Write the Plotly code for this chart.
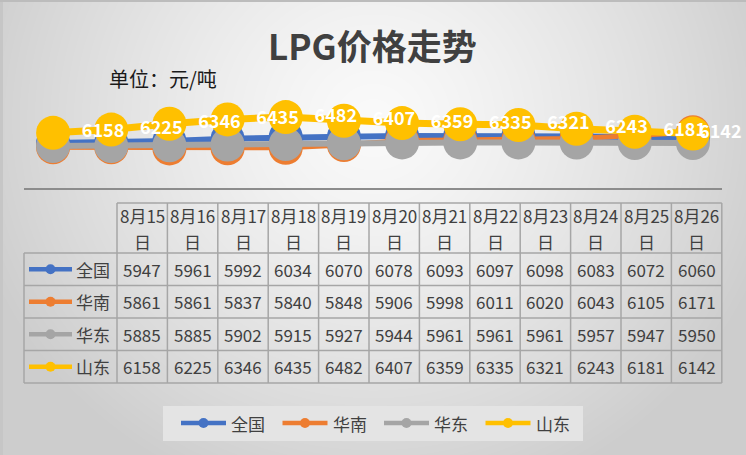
import numpy as np, zlib, struct, base64
import plotly.graph_objects as go

# ---------------- data ----------------
dates = ["8月15日", "8月16日", "8月17日", "8月18日", "8月19日", "8月20日",
         "8月21日", "8月22日", "8月23日", "8月24日", "8月25日", "8月26日"]
series_names = ["全国", "华南", "华东", "山东"]
quanguo = [5947, 5961, 5992, 6034, 6070, 6078, 6093, 6097, 6098, 6083, 6072, 6060]
huanan = [5861, 5861, 5837, 5840, 5848, 5906, 5998, 6011, 6020, 6043, 6105, 6171]
huadong = [5885, 5885, 5902, 5915, 5927, 5944, 5961, 5961, 5961, 5957, 5947, 5950]
shandong = [6158, 6225, 6346, 6435, 6482, 6407, 6359, 6335, 6321, 6243, 6181, 6142]
y_ticks = [5000, 6000, 7000]

series_values = [quanguo, huanan, huadong, shandong]
colors = ["#4472C4", "#ED7D31", "#A5A5A5", "#FFC000"]
line_widths = [6, 5, 6, 7]

W, H = 746, 455
FONT = "Noto Sans CJK SC"
TXT = "#404040"

# ---------------- background gradient (generated PNG) ----------------
yy, xx = np.mgrid[0:H, 0:W]
d = np.sqrt(((xx - 373) / 420.0) ** 2 + ((yy - 120) / 400.0) ** 2)
d = np.clip(d, 0, 1)
v = 250 - 45 * d ** 1.3
v[0:2, :] = 188
v[:, 0:3] = np.minimum(v[:, 0:3], 198)
img = np.clip(v, 0, 255).astype(np.uint8)
raw = b"".join(b"\x00" + img[r].tobytes() for r in range(H))


def chunk(t, data):
    return struct.pack(">I", len(data)) + t + data + struct.pack(">I", zlib.crc32(t + data) & 0xffffffff)


png = (b"\x89PNG\r\n\x1a\n" + chunk(b"IHDR", struct.pack(">IIBBBBB", W, H, 8, 0, 0, 0, 0))
       + chunk(b"IDAT", zlib.compress(raw, 9)) + chunk(b"IEND", b""))
bg_uri = "data:image/png;base64," + base64.b64encode(png).decode()


def px(x):
    return x / W


def py(y):
    return 1 - y / H


# ---------------- chart ----------------
fig = go.Figure()
n = len(dates)
xs = list(range(1, n + 1))
for name, vals, c, lw in zip(series_names, series_values, colors, line_widths):
    fig.add_trace(go.Scatter(
        x=xs, y=vals, name=name, mode="lines+markers",
        line=dict(color=c, width=lw),
        marker=dict(color=c, size=34, line=dict(width=0)),
        showlegend=False, hoverinfo="skip"))

# data labels (Excel placed them shifted by one category)
label_x = [k + 1.86 for k in range(n - 1)] + [n + 0.47]
fig.add_trace(go.Scatter(
    x=label_x, y=shandong, mode="text", text=[str(v) for v in shandong],
    textposition="middle center",
    textfont=dict(family=FONT, size=18, color="white", weight="bold"),
    cliponaxis=False, showlegend=False, hoverinfo="skip"))

shapes = []
annotations = []

# ---------------- table ----------------
TX0, CW = 117, 50.4
TXE = TX0 + CW * n
KX0 = 24
HY0, HY1 = 203, 253
RH = 32.5
BORDER = "#A6A6A6"


def hline(x0, x1, y, color=BORDER, w=1.5):
    shapes.append(dict(type="line", xref="paper", yref="paper", x0=px(x0), x1=px(x1),
                       y0=py(y), y1=py(y), line=dict(color=color, width=w)))


def vline(x, y0, y1, color=BORDER, w=1.5):
    shapes.append(dict(type="line", xref="paper", yref="paper", x0=px(x), x1=px(x),
                       y0=py(y0), y1=py(y1), line=dict(color=color, width=w)))


def key_glyph(x0, x1, y, color):
    shapes.append(dict(type="line", xref="paper", yref="paper", x0=px(x0), x1=px(x1),
                       y0=py(y), y1=py(y), line=dict(color=color, width=4.5)))
    cx = (x0 + x1) / 2
    r = 5
    shapes.append(dict(type="circle", xref="paper", yref="paper", x0=px(cx - r), x1=px(cx + r),
                       y0=py(y - r), y1=py(y + r), fillcolor=color, line=dict(width=0)))


def text(x, y, s, size=17, color=TXT, xanchor="center", **kw):
    annotations.append(dict(x=px(x), y=py(y), xref="paper", yref="paper", text=s, showarrow=False,
                            xanchor=xanchor, yanchor="middle",
                            font=dict(family=FONT, size=size, color=color, **kw)))


bottom = HY1 + RH * len(series_names)
hline(TX0, TXE, HY0)
for r in range(len(series_names) + 1):
    hline(KX0, TXE, HY1 + RH * r)
vline(KX0, HY1, bottom)
for k in range(n + 1):
    vline(TX0 + CW * k, HY0, bottom)

for k, dt in enumerate(dates):
    cx = TX0 + CW * (k + 0.5)
    text(cx, 215, dt[:-1])
    text(cx, 241, dt[-1])

for r, (name, vals, c) in enumerate(zip(series_names, series_values, colors)):
    cy = HY1 + RH * (r + 0.5)
    key_glyph(29, 72, cy, c)
    text(112, cy, name, xanchor="right")
    for k, v in enumerate(vals):
        text(TX0 + CW * (k + 0.5), cy, str(v))

# ---------------- legend ----------------
shapes.append(dict(type="rect", xref="paper", yref="paper", x0=px(163), x1=px(583),
                   y0=py(406), y1=py(441), fillcolor="#E4E4E4", line=dict(width=0), layer="below"))
LX0, LSP, LY = 181, 101.5, 423
for i, (name, c) in enumerate(zip(series_names, colors)):
    x0 = LX0 + LSP * i
    key_glyph(x0, x0 + 45, LY, c)
    text(x0 + 48, LY, name, xanchor="left")

# ---------------- titles ----------------
text(372, 45, "LPG价格走势", size=35, color=TXT, weight="bold")
text(107, 78, "单位：元/吨", size=20, color="#1A1A1A", xanchor="left")

fig.update_layout(
    width=W, height=H, autosize=False,
    margin=dict(l=0, r=0, t=0, b=0),
    paper_bgcolor="#E0E0E0", plot_bgcolor="rgba(0,0,0,0)",
    images=[dict(source=bg_uri, xref="paper", yref="paper", x=0, y=1, sizex=1, sizey=1,
                 xanchor="left", yanchor="top", sizing="stretch", layer="below")],
    xaxis=dict(domain=[px(24), px(722)], range=[0.5, n + 0.5], showgrid=False, zeroline=False,
               showticklabels=False, showline=False, ticks="", fixedrange=True),
    yaxis=dict(domain=[py(189), py(92)], range=[y_ticks[0], y_ticks[-1]], tickvals=y_ticks,
               showgrid=True, gridcolor="#D6D6D6", gridwidth=1, zeroline=False,
               showticklabels=False, showline=False, ticks="", fixedrange=True),
    shapes=shapes, annotations=annotations, showlegend=False,
)
# darker baseline of the plot area
fig.add_shape(type="line", xref="paper", yref="paper", x0=px(24), x1=px(722), y0=py(189), y1=py(189),
              line=dict(color="#8C8C8C", width=2))

fig.write_html("out.html",
               post_script="document.body.style.margin='0';document.body.style.overflow='hidden';",
               config={"displayModeBar": False})
